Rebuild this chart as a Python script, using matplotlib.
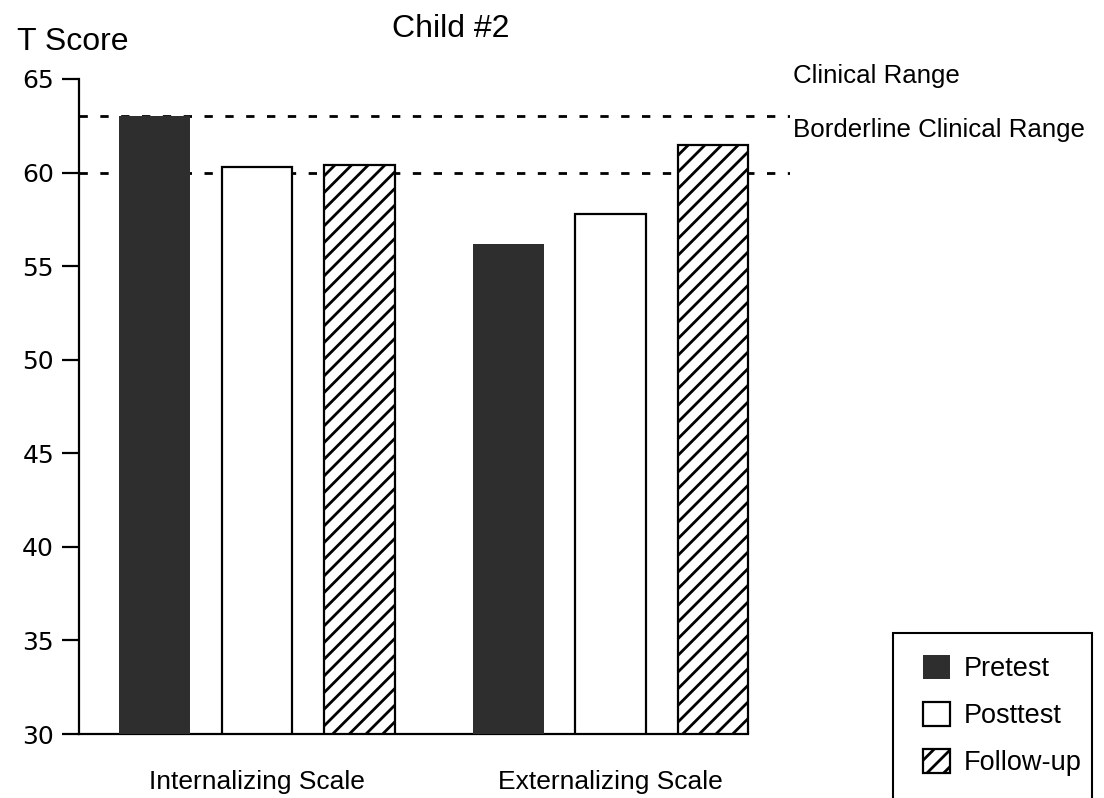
import numpy as np
import matplotlib
matplotlib.use('Agg')
import matplotlib.pyplot as plt
from matplotlib.patches import Rectangle

# data
scales = ['Internalizing Scale', 'Externalizing Scale']
phases = ['Pretest', 'Posttest', 'Follow-up']
pretest = [63.0, 56.2]
posttest = [60.3, 57.8]
followup = [60.4, 61.5]
clinical_cut = 63.0
borderline_cut = 60.0
yticks = [30, 35, 40, 45, 50, 55, 60, 65]

plt.rcParams['font.family'] = ['Liberation Sans', 'DejaVu Sans']
plt.rcParams['hatch.linewidth'] = 2.0

W, H = 1104, 798
fig = plt.figure(figsize=(W / 100, H / 100), dpi=100)
ax = fig.add_axes([79 / W, 1 - 734 / H, (790 - 79) / W, (734 - 79) / H])

group_gap = 3.45
width = 0.69
series = [pretest, posttest, followup]
styles = [
    dict(color='#2e2e2e', edgecolor='#2e2e2e', linewidth=0),
    dict(color='white', edgecolor='black', linewidth=1.6),
    dict(color='white', edgecolor='black', linewidth=1.6, hatch='//'),
]
for i, (vals, st, name) in enumerate(zip(series, styles, phases)):
    x = np.arange(len(scales)) * group_gap + i
    bottoms = np.full(len(vals), yticks[0])
    ax.bar(x, np.array(vals) - yticks[0], width, bottom=bottoms, label=name,
           zorder=3, **st)

x0 = -0.737
x1 = 6.2
ax.set_xlim(x0, x1)
ax.set_ylim(yticks[0], yticks[-1])

# reference lines
for yv in [clinical_cut, borderline_cut]:
    ax.axhline(yv, color='black', lw=2.0, ls=(0, (3.0, 4.5)), zorder=1)

ax.spines['top'].set_visible(False)
ax.spines['right'].set_visible(False)
ax.spines['left'].set_linewidth(1.6)
ax.spines['bottom'].set_linewidth(1.6)
ax.spines['bottom'].set_bounds(x0, (len(scales) - 1) * group_gap + 2 + width / 2)

ax.set_yticks(yticks)
ax.set_yticklabels([str(t) for t in yticks], family='DejaVu Sans', fontsize=18)
ax.tick_params(axis='y', length=12, width=1.6, pad=6)
ax.set_xticks(np.arange(len(scales)) * group_gap + 1)
ax.set_xticklabels(scales, fontsize=19)
ax.tick_params(axis='x', length=0, pad=26)

fig.text(17 / W, 1 - 50 / H, 'T Score', fontsize=23, va='baseline', ha='left')
fig.text(392 / W, 1 - 37 / H, 'Child #2', fontsize=23, va='baseline', ha='left')
fig.text(793 / W, 1 - 83 / H, 'Clinical Range', fontsize=18.6, va='baseline', ha='left')
fig.text(793 / W, 1 - 137 / H, 'Borderline Clinical Range', fontsize=18.6,
         va='baseline', ha='left')

# legend with a box that runs off the bottom of the page
fig.legend(loc='upper left', bbox_to_anchor=(923 / W, 1 - 655 / H), frameon=False,
           fontsize=19.5, borderpad=0, handlelength=1.0, handleheight=1.0,
           handletextpad=0.5, labelspacing=0.72, borderaxespad=0)
fig.patches.append(Rectangle((893 / W, -0.05), 199 / W, 1 - 633 / H + 0.05,
                             transform=fig.transFigure, fill=False,
                             edgecolor='black', lw=1.5, clip_on=False))

fig.savefig('out.png', dpi=100)
